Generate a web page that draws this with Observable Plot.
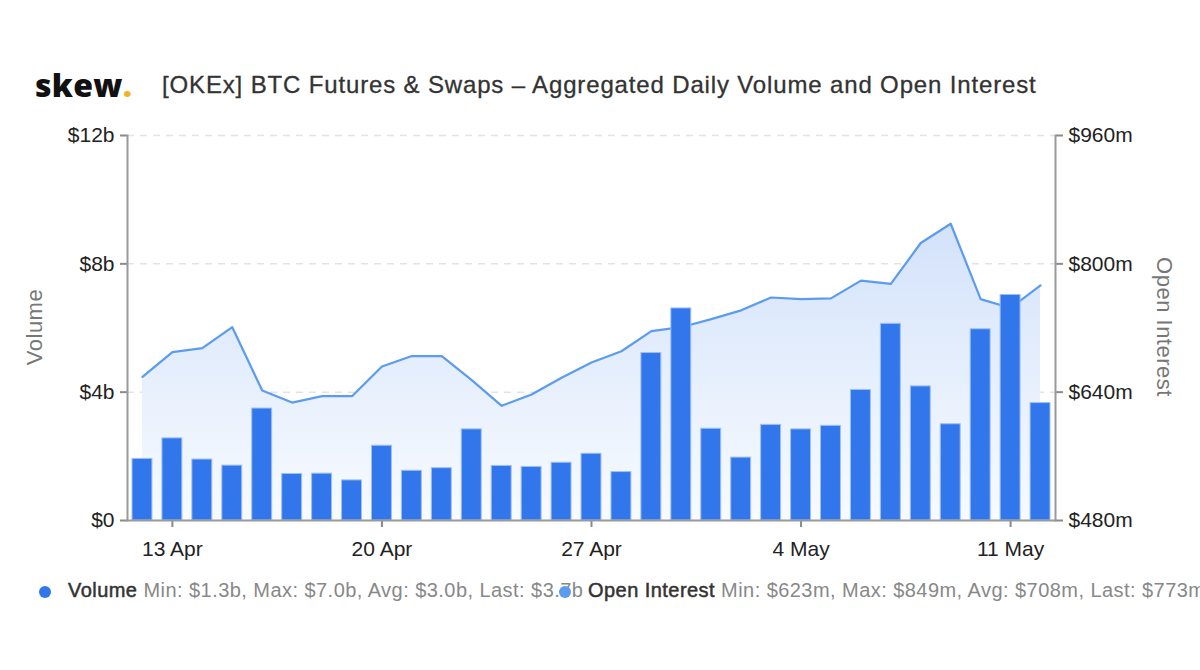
<!DOCTYPE html>
<html>
<head>
<meta charset="utf-8">
<script src="https://cdn.jsdelivr.net/npm/d3@7"></script>
<script src="https://cdn.jsdelivr.net/npm/@observablehq/plot@0.6"></script>
<style>
  html, body { margin: 0; padding: 0; background: #fff; width: 1200px; height: 670px; overflow: hidden; }
  body { position: relative; font-family: "Liberation Sans", Arial, Helvetica, sans-serif; }
  .abs { position: absolute; white-space: nowrap; }
  #logo { left: 35px; top: 63px; font-family: "Open Sans", "DejaVu Sans", sans-serif; font-weight: 800; font-size: 32px; color: #111; letter-spacing: 0.3px; }
  #logo span { color: #f5b324; }
  #title { left: 162px; top: 71px; font-size: 24px; color: #333; letter-spacing: 0.85px; -webkit-text-stroke: 0.3px #333; }
  #chart { left: 0; top: 110px; }
  .ylab { font-size: 22px; color: #777; letter-spacing: 0.5px; }
  #ylabL { left: 35px; top: 327px; transform: translate(-50%, -50%) rotate(-90deg); }
  #ylabR { left: 1164px; top: 327px; transform: translate(-50%, -50%) rotate(90deg); }
  .leg { top: 579px; font-size: 20px; color: #888; letter-spacing: 0.45px; }
  .leg b { color: #333; font-weight: normal; -webkit-text-stroke: 0.5px #333; }
  .dot { position: absolute; width: 12px; height: 12px; border-radius: 6px; top: 7px; }
</style>
</head>
<body>
<div id="logo" class="abs">skew<span>.</span></div>
<div id="title" class="abs">[OKEx] BTC Futures &amp; Swaps – Aggregated Daily Volume and Open Interest</div>
<div id="chart" class="abs"></div>
<div id="ylabL" class="abs ylab">Volume</div>
<div id="ylabR" class="abs ylab">Open Interest</div>
<div class="abs leg" style="left:68px"><div class="dot" style="left:-29px;background:#3276ec"></div><b>Volume</b> Min: $1.3b, Max: $7.0b, Avg: $3.0b, Last: $3.7b</div>
<div class="abs leg" style="left:588px"><div class="dot" style="left:-29px;background:#5b9bf0"></div><b>Open Interest</b> Min: $623m, Max: $849m, Avg: $708m, Last: $773m</div>
<script>
// Dates (12 Apr – 12 May 2020)
const dates = ["12 Apr","13 Apr","14 Apr","15 Apr","16 Apr","17 Apr","18 Apr","19 Apr","20 Apr","21 Apr","22 Apr","23 Apr","24 Apr","25 Apr","26 Apr","27 Apr","28 Apr","29 Apr","30 Apr","1 May","2 May","3 May","4 May","5 May","6 May","7 May","8 May","9 May","10 May","11 May","12 May"];
// Aggregated daily volume, $b
const volume = [1.92,2.56,1.90,1.71,3.49,1.45,1.46,1.25,2.33,1.55,1.63,2.84,1.70,1.67,1.80,2.08,1.51,5.22,6.61,2.86,1.96,2.98,2.84,2.95,4.07,6.13,4.18,3.00,5.96,7.03,3.66];
// Open interest, $m
const openInterest = [659,690,695,721,642,627,635,635,672,685,685,655,623,637,658,677,691,716,721,731,742,758,756,757,779,775,826,850,756,745,773];
// Axis ticks
const xTicks = ["13 Apr","20 Apr","27 Apr","4 May","11 May"];
const volTicks = [0,4,8,12];
const volTickLabels = ["$0","$4b","$8b","$12b"];
const oiTicks = [480,640,800,960];
const oiTickLabels = ["$480m","$640m","$800m","$960m"];

// Map OI onto the volume scale (480m–960m ↔ 0–12b)
const oiMin = 480, oiMax = 960, volMax = 12;
const toVol = v => (v - oiMin) / (oiMax - oiMin) * volMax;

const data = dates.map((d, i) => ({date: d, volume: volume[i], oi: toVol(openInterest[i])}));

const defs = () => {
  const ns = "http://www.w3.org/2000/svg";
  const d = document.createElementNS(ns, "defs");
  const g = document.createElementNS(ns, "linearGradient");
  g.setAttribute("id", "oiGrad");
  g.setAttribute("x1", "0"); g.setAttribute("y1", "0");
  g.setAttribute("x2", "0"); g.setAttribute("y2", "1");
  [["0%", "#d3e2fa"], ["100%", "#f8fbff"]].forEach(([o, c]) => {
    const s = document.createElementNS(ns, "stop");
    s.setAttribute("offset", o); s.setAttribute("stop-color", c);
    g.appendChild(s);
  });
  d.appendChild(g);
  return d;
};

const axisStyle = {stroke: "#8a8a8a", strokeWidth: 2, fontSize: 21, label: null, tickSize: 7};

const chart = Plot.plot({
  width: 1200,
  height: 450,
  marginTop: 25,
  marginBottom: 40,
  marginLeft: 127,
  marginRight: 145,
  style: {fontFamily: "'Liberation Sans', Arial, Helvetica, sans-serif", fontSize: "21px", color: "#222", background: "transparent"},
  x: {type: "band", domain: dates, padding: 0, round: false},
  y: {domain: [0, 12]},
  marks: [
    defs,
    Plot.ruleY(volTicks.filter(t => t > 0), {stroke: "#e3e3e3", strokeWidth: 1.5, strokeDasharray: "7,6"}),
    Plot.areaY(data, {x: "date", y: "oi", fill: "url(#oiGrad)", curve: "linear"}),
    Plot.lineY(data, {x: "date", y: "oi", stroke: "#5b9bf0", strokeWidth: 2.2, curve: "linear"}),
    Plot.barY(data, {x: "date", y: "volume", fill: "#3276ec", stroke: "#9dbff5", strokeWidth: 1, insetLeft: 5, insetRight: 5}),
    Plot.axisX({...axisStyle, ticks: xTicks, tickPadding: 14, tickFormat: d => d}),
    Plot.axisY({...axisStyle, anchor: "left", ticks: volTicks, tickPadding: 6, tickFormat: d => volTickLabels[volTicks.indexOf(d)]}),
    Plot.axisY({...axisStyle, anchor: "right", ticks: oiTicks.map(toVol), tickPadding: 6, tickFormat: d => oiTickLabels[oiTicks.map(toVol).indexOf(d)]}),
    Plot.frame({anchor: "left", stroke: "#999", strokeWidth: 2}),
    Plot.frame({anchor: "right", stroke: "#999", strokeWidth: 2}),
    Plot.frame({anchor: "bottom", stroke: "#999", strokeWidth: 2})
  ]
});
document.getElementById("chart").appendChild(chart);
</script>
</body>
</html>
